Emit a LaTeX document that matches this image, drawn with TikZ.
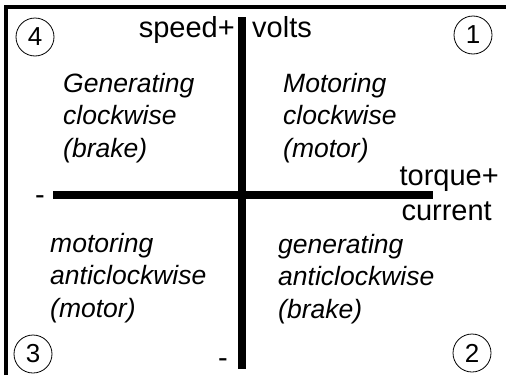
\documentclass[tikz,border=0pt]{standalone}
\usepackage{fontspec}
\setmainfont{Liberation Sans}
\usepackage{tikz}
\usetikzlibrary{positioning}

\begin{document}
\begin{tikzpicture}[x=1pt, y=-1pt,
    axis/.style={line width=8.5pt},
    frameline/.style={line width=3.5pt},
    quadnum/.style={circle, draw, line width=0.8pt, minimum size=38pt, inner sep=0pt, font=\fontsize{26}{26}\selectfont},
    axislabel/.style={inner sep=0pt, font=\fontsize{29}{29}\selectfont},
    quadtext/.style={inner sep=0pt, anchor=base west, align=left, font=\fontsize{26.5}{32.5}\selectfont\itshape}]
    \useasboundingbox (0,0) rectangle (506,375);

    \coordinate (tl) at (6,7);
    \coordinate (tr) at (506,7);
    \coordinate (bl) at (6,375);
    \draw[frameline] (bl) -- (tl) -- (tr);

    \coordinate (vtop) at (242,17);
    \coordinate (vbot) at (242,369);
    \coordinate (hleft) at (53,195);
    \coordinate (hright) at (433,195);
    \draw[axis] (vtop) -- (vbot);
    \draw[axis] (hleft) -- (hright);

    \node[quadnum] (q1) at (473,35) {1};
    \node[quadnum] (q2) at (472,353) {2};
    \node[quadnum] (q3) at (33,354) {3};
    \node[quadnum] (q4) at (35,37) {4};

    \node[axislabel, anchor=base east] (speed) at (235,37) {speed+};
    \node[axislabel, anchor=base west] (volts) at (252,37) {volts};
    \node[axislabel, anchor=base east] (torque) at (499,185) {torque+};
    \node[axislabel, anchor=base east] (current) at (492,220) {current};
    \node[axislabel, anchor=base] (hminus) at (40,204) {-};
    \node[axislabel, anchor=base] (vminus) at (223,367) {-};

    \node[quadtext] (genclock) at (63,157) {Generating\\clockwise\\(brake)};
    \node[quadtext] (motclock) at (283,157) {Motoring\\clockwise\\(motor)};
    \node[quadtext] (motanti) at (50,317) {motoring\\anticlockwise\\(motor)};
    \node[quadtext] (genanti) at (278,318) {generating\\anticlockwise\\(brake)};
\end{tikzpicture}
\end{document}
